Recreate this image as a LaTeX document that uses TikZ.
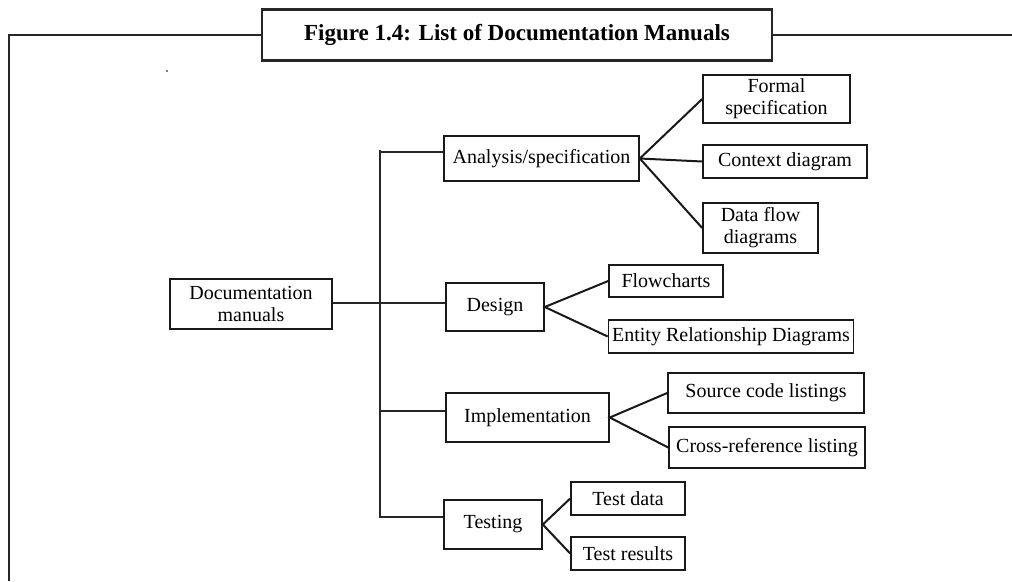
\documentclass[tikz,border=0pt]{standalone}
\usepackage{fontspec}
\setmainfont{Liberation Serif}
\begin{document}
\begin{tikzpicture}[x=1pt,y=-1pt,
  frameline/.style={line width=2.6pt,draw=black!85},
  titlebox/.style={draw=black!85,line width=2.4pt,fill=white,inner sep=0pt,
    minimum width=510pt,minimum height=51pt,font=\fontsize{23}{26}\selectfont\bfseries},
  item/.style={draw=black!90,line width=1.6pt,inner sep=0pt,align=center,
    font=\fontsize{20}{22}\selectfont},
  bus/.style={line width=1.5pt,draw=black!85},
  fan/.style={line width=2pt,draw=black!90}]
\useasboundingbox (0,0) rectangle (1012,581);

% outer frame with the title box
\coordinate (fbl) at (9,581);
\coordinate (ftl) at (9,35);
\coordinate (ftr) at (1012,35);
\node[titlebox] (title) at (517,35) {Figure 1.4: List of Documentation Manuals};
\draw[frameline] (fbl) -- (ftl) -- (title.west);
\draw[frameline] (title.east) -- (ftr);
\fill[black] (167,71) circle (0.9pt);

% root and first level
\node[item,minimum width=162pt,minimum height=50pt] (doc) at (251,304) {Documentation\\manuals};
\node[item,minimum width=195pt,minimum height=45pt] (ana) at (541.5,158.5) {Analysis/specification};
\node[item,minimum width=98pt,minimum height=48pt] (des) at (495,307) {Design};
\node[item,minimum width=163pt,minimum height=49pt] (imp) at (527.5,417.5) {Implementation};
\node[item,minimum width=98pt,minimum height=49pt] (tst) at (493,524.5) {Testing};

% second level
\node[item,minimum width=147pt,minimum height=48pt] (frm) at (776.5,99) {Formal\\specification};
\node[item,minimum width=164pt,minimum height=33pt] (ctx) at (785,161.5) {Context diagram};
\node[item,minimum width=115pt,minimum height=50pt] (dfd) at (760.5,228) {Data flow\\diagrams};
\node[item,minimum width=114pt,minimum height=32pt] (flw) at (666,281) {Flowcharts};
\node[item,minimum width=245pt,minimum height=33pt] (erd) at (731,336.5) {Entity Relationship Diagrams};
\node[item,minimum width=196pt,minimum height=40pt] (src) at (766,393) {Source code listings};
\node[item,minimum width=196pt,minimum height=41pt] (xrf) at (767,447.5) {Cross-reference listing};
\node[item,minimum width=114pt,minimum height=33pt] (tda) at (628,498.5) {Test data};
\node[item,minimum width=114pt,minimum height=33pt] (trs) at (628,553.5) {Test results};

% vertical bus joining the first level
\coordinate (bt) at (380,150);
\coordinate (ba) at (380,152);
\coordinate (bi) at (380,411);
\coordinate (bs) at (380,517);
\coordinate (bb) at (380,518);
\draw[bus] (bt) -- (bb);
\draw[bus] (ba) -- (ana.west |- ba);
\draw[bus] (doc.east |- 0,303) -- (des.west |- 0,303);
\draw[bus] (bi) -- (imp.west |- bi);
\draw[bus] (bs) -- (tst.west |- bs);

% fans to the second level
\draw[fan] (frm.west) -- (ana.east) -- (dfd.west);
\draw[fan] (ana.east) -- (ctx.west);
\draw[fan] (flw.west) -- (des.east) -- (erd.west);
\draw[fan] (src.west) -- (imp.east) -- (xrf.west);
\draw[fan] (tda.west) -- (tst.east) -- (trs.west);
\end{tikzpicture}
\end{document}
